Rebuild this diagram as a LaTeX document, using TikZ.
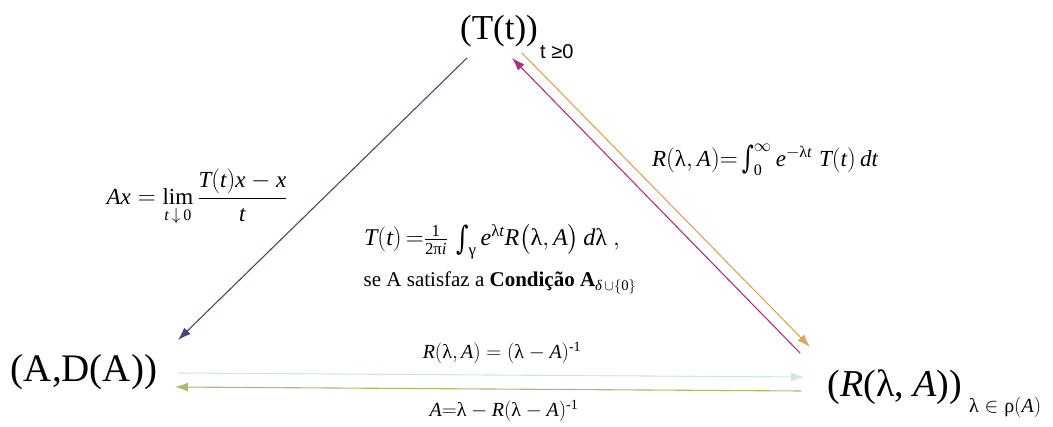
\documentclass[tikz,border=0pt]{standalone}
\usepackage{amsmath}
\usepackage{graphicx}
\usepackage{fontspec}
\setmainfont{Liberation Serif}
\newfontfamily\arialf{Liberation Sans}
\newfontfamily\dvs{DejaVu Serif}
\newcommand\vi[1]{\text{\itshape #1}}
\newcommand\gl{\text{λ}}
\newcommand\tint{\mathop{\vcenter{\hbox{\dvs\scalebox{1}[1.35]{∫}}}}\nolimits}
\usetikzlibrary{arrows.meta}
\definecolor{cPurple}{HTML}{4B4575}
\definecolor{cMagenta}{HTML}{A6357F}
\definecolor{cTan}{HTML}{D9A560}
\definecolor{cMint}{HTML}{CDE8DC}
\definecolor{cOlive}{HTML}{A9BA72}
\tikzset{
  conn/.style={line width=1.1pt, -{Latex[length=13pt,width=9pt]}},
  bigtxt/.style={inner sep=0pt, font=\fontsize{39}{42}\selectfont},
  lbl/.style={inner sep=0pt, font=\fontsize{20}{24}\selectfont},
  subtxt/.style={inner sep=0pt, font=\fontsize{20}{24}\selectfont},
}
\begin{document}
\begin{tikzpicture}[x=1pt,y=-1pt]
\useasboundingbox (0,0) rectangle (1053,427);
% main nodes
\node[bigtxt, font=\fontsize{35}{38}\selectfont] (T) at (499,31) {(T(t))};
\node[subtxt, anchor=west] (Tsub) at (540,52) {\arialf t ≥0};
\node[bigtxt] (AD) at (84,372) {(A,D(A))};
\node[bigtxt, font=\fontsize{38}{42}\selectfont] (R) at (895,387) {(\textit{R}(λ, \textit{A}))};
\node[subtxt, anchor=west] (Rsub) at (969,407) {$\gl\in\text{ρ}(\vi{A})$};
% connector end points
\coordinate (p1s) at (467,58);
\coordinate (p1e) at (178,340);
\coordinate (p2s) at (800,353);
\coordinate (p2e) at (512,58);
\coordinate (p3s) at (522,53);
\coordinate (p3e) at (810,347);
\coordinate (p4s) at (178,373);
\coordinate (p4e) at (804,377);
\coordinate (p5s) at (801,391);
\coordinate (p5e) at (175,387);
\draw[conn, cPurple] (p1s) -- (p1e);
\draw[conn, cMagenta] (p2s) -- (p2e);
\draw[conn, cTan] (p3s) -- (p3e);
\draw[conn, cMint] (p4s) -- (p4e);
\draw[conn, cOlive] (p5s) -- (p5e);
% labels
\node[lbl, font=\fontsize{23}{26}\selectfont] (l1) at (765,160) {$\vi{R}(\gl,\vi{A}){=}\tint_{\text{0}}^{\infty} \vi{e}^{-\gl \vi{t}}\;\vi{T}(\vi{t})\,\vi{dt}$};
\node[lbl, font=\fontsize{23}{26}\selectfont] (l2) at (197,198) {$\displaystyle \vi{Ax}=\mathop{\text{lim}}_{\vi{t}\,\downarrow\,\text{0}}\frac{\vi{T}(\vi{t})\vi{x}-\vi{x}}{\vi{t}}$};
\node[lbl, font=\fontsize{24}{28}\selectfont] (l3) at (492,242) {$\vi{T}(\vi{t})\,{=}\tfrac{\text{1}}{\text{2π\itshape i}}\,\tint_{\text{γ}} \vi{e}^{\gl\vi{t}}\vi{R}\bigl(\gl, \vi{A}\bigr)\,\vi{d}\gl\ ,$};
\node[lbl, font=\fontsize{21}{24}\selectfont] (l4) at (500,283) {se A satisfaz a \textbf{Condição A}$_{\text{\itshape δ}\,\cup\{\text{0}\}}$};
\node[lbl, font=\fontsize{20}{24}\selectfont] (l5) at (502,353) {$\vi{R}(\gl, \vi{A}) = (\gl - \vi{A})^{\text{-1}}$};
\node[lbl, font=\fontsize{20}{24}\selectfont] (l6) at (504,411) {$\vi{A}{=}\gl-\vi{R}(\gl-\vi{A})^{\text{-1}}$};
\end{tikzpicture}
\end{document}
